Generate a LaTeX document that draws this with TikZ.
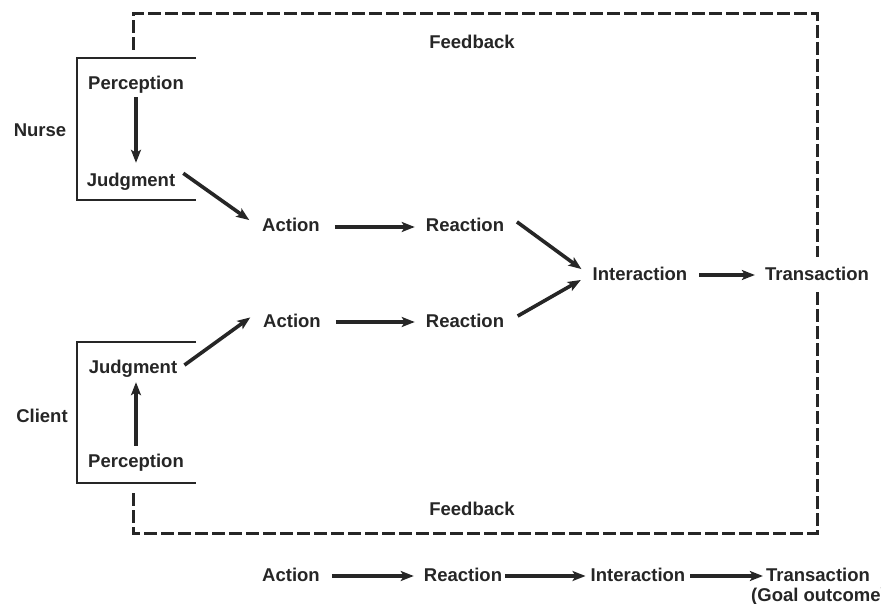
\documentclass[tikz,border=0pt]{standalone}
\usepackage{fontspec}
\setmainfont{Liberation Sans}
\usetikzlibrary{arrows.meta}
\definecolor{ink}{HTML}{262626}
\begin{document}
\begin{tikzpicture}[x=1pt,y=-1pt,
  lbl/.style={anchor=base, inner sep=3pt, text height=14pt, text depth=4pt,
    font=\fontsize{18.5}{22}\selectfont\bfseries, text=ink},
  arr/.style={draw=ink, line width=3.6pt, -{Stealth[length=13pt,width=10pt,inset=3pt]}},
  frame/.style={draw=ink, line width=3pt, dash pattern=on 13pt off 4pt},
  brk/.style={draw=ink, line width=2.5pt}]
\useasboundingbox (0,0) rectangle (881,604);
\clip (0,0) rectangle (881,604);
\fill[white] (0,0) rectangle (881,604);

% nurse side
\node[lbl] (nurse) at (40,137) {Nurse};
\node[lbl] (pn) at (136,90) {Perception};
\node[lbl] (jn) at (131,187) {Judgment};
% client side
\node[lbl] (client) at (42,422) {Client};
\node[lbl] (cj) at (133,373) {Judgment};
\node[lbl] (cp) at (136,467) {Perception};
% middle chain
\node[lbl] (at) at (291,232) {Action};
\node[lbl] (rt) at (465,232) {Reaction};
\node[lbl] (ab) at (292,327) {Action};
\node[lbl] (rb) at (465,327) {Reaction};
\node[lbl] (in) at (640,280) {Interaction};
\node[lbl] (tr) at (817,280) {Transaction};
% feedback labels
\node[lbl] (fbt) at (472,49) {Feedback};
\node[lbl] (fbb) at (472,515) {Feedback};
% summary row
\node[lbl] (ba) at (291,581) {Action};
\node[lbl] (br) at (463,581) {Reaction};
\node[lbl] (bi) at (638,581) {Interaction};
\node[lbl] (bt) at (818,581) {Transaction};
\node[lbl, anchor=base west, inner sep=0pt, text depth=0pt] (goal) at (751,601) {(Goal outcome)};

% brackets
\draw[brk] (196,58) -- (77,58) -- (77,200) -- (196,200);
\draw[brk] (196,342) -- (77,342) -- (77,483) -- (196,483);

% feedback loop
\coordinate (f1) at (133,50);
\coordinate (f2) at (817,14);
\coordinate (f3) at (133,533);
\coordinate (f4) at (133,490);
\draw[frame, shorten >=6pt] (f1) |- (f2) -- (tr.north);
\draw[frame, shorten <=5pt] (tr.south) |- (f3) -- (f4);

% arrows
\draw[arr, shorten >=7pt] (pn.south) -- (pn.south |- jn.north);
\draw[arr, shorten <=4pt, shorten >=2pt] (cp.north) -- (cp.north |- cj.south);
\draw[arr, shorten <=6pt, shorten >=12pt] (jn.north east) -- (at.west);
\draw[arr, shorten <=5pt, shorten >=12pt] (cj.east) -- (ab.160);
\draw[arr, shorten <=12pt, shorten >=8pt] (at.east) -- (rt.west);
\draw[arr, shorten <=12pt, shorten >=8pt] (ab.east) -- (rb.west);
\draw[arr, shorten <=12pt, shorten >=10pt] (rt.north east) -- (in.west);
\draw[arr, shorten <=12pt, shorten >=10pt] (rb.east) -- (in.west);
\draw[arr, shorten <=9pt, shorten >=7pt] (in.east) -- (tr.west);
\draw[arr, shorten <=9pt, shorten >=7pt] (ba.east) -- (br.west);
\draw[arr, shorten <=0pt, shorten >=2pt] (br.east) -- (bi.west);
\draw[arr, shorten <=2pt, shorten >=0pt] (bi.east) -- (bt.west);
\end{tikzpicture}
\end{document}
